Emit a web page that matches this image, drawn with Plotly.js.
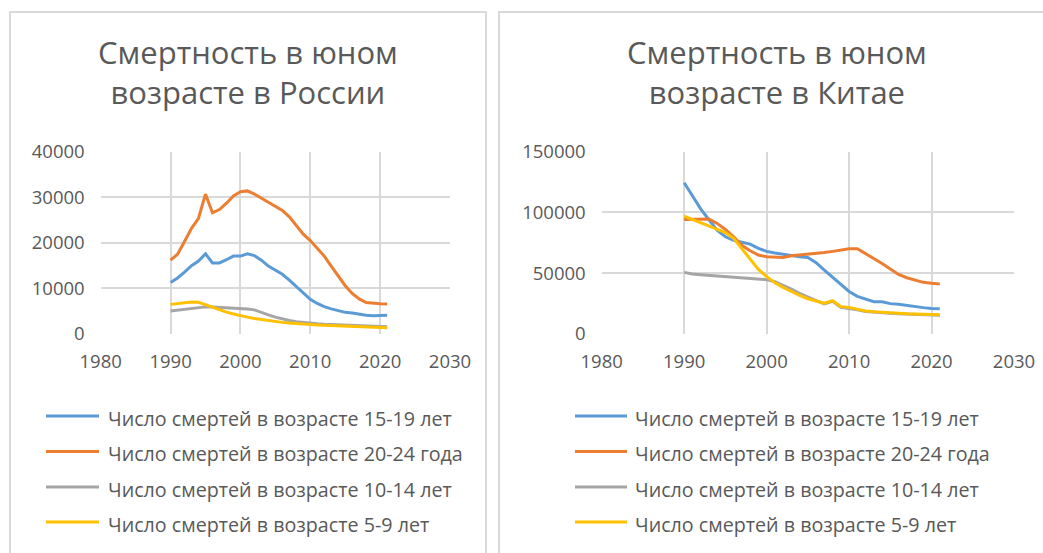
<!DOCTYPE html>
<html>
<head>
<meta charset="utf-8">
<script src="https://cdn.plot.ly/plotly-3.0.1.min.js"></script>
<style>html,body{margin:0;padding:0;background:#fff;}#chart{width:1043px;height:553px;}</style>
</head>
<body>
<div id="chart"></div>
<script>
// ---- data ----
var years = [1990,1991,1992,1993,1994,1995,1996,1997,1998,1999,2000,2001,2002,2003,2004,2005,2006,2007,2008,2009,2010,2011,2012,2013,2014,2015,2016,2017,2018,2019,2020,2021];

var seriesNames = ["Число смертей в возрасте 15-19 лет","Число смертей в возрасте 20-24 года","Число смертей в возрасте 10-14 лет","Число смертей в возрасте 5-9 лет"];

var ru15_19 = [11300,12300,13600,15000,16000,17600,15600,15600,16300,17100,17100,17600,17200,16200,14900,14000,13100,11800,10400,8900,7600,6700,6000,5500,5100,4750,4600,4300,4100,4000,4000,4100];
var ru20_24 = [16200,17500,20300,23200,25400,30700,26600,27300,28700,30300,31200,31400,30700,29800,28900,28100,27100,25700,23700,21900,20500,18900,17100,14900,12700,10600,8900,7700,6900,6700,6650,6600];
var ru10_14 = [5050,5200,5400,5600,5800,5950,5900,5850,5800,5700,5650,5500,5300,4700,4200,3700,3300,2950,2700,2500,2350,2250,2150,2100,2050,2000,1900,1850,1800,1700,1650,1600];
var ru5_9 = [6500,6700,6900,7000,6950,6400,5900,5300,4800,4400,4000,3700,3400,3150,2900,2700,2550,2400,2250,2150,2100,2000,1950,1900,1850,1800,1700,1650,1550,1500,1400,1350];

var cn15_19 = [124500,114000,103000,94000,85500,80000,77000,75500,74000,70500,68000,66600,65500,65000,63600,63000,58700,52600,47000,41000,35000,31000,28500,26600,26600,25000,24400,23300,22700,21700,21000,20800];
var cn20_24 = [94300,94300,94600,94600,91000,86000,80000,73000,68500,65000,63600,63000,63000,64400,65000,65500,66000,67000,68000,69000,70200,70200,66300,62200,58000,53500,49000,46300,44400,42500,41700,41100];
var cn10_14 = [50700,49400,48800,48300,47400,46900,46300,45800,45200,45000,44700,43000,40300,37000,33500,30200,27400,24800,26900,22000,21300,20000,18600,17900,17400,17000,16600,16300,16000,15800,15600,15400];
var cn5_9 = [97000,94300,91000,88300,86000,83400,78700,70500,61400,53200,47200,42200,38400,34800,31800,29000,26900,25300,27400,22500,21900,20500,19000,18300,17800,17400,17000,16700,16500,16300,16100,15900];

var titleRu = "Смертность в юном<br>возрасте в России";
var titleCn = "Смертность в юном<br>возрасте в Китае";
var xTicks = [1980,1990,2000,2010,2020,2030];
var yTicksRu = [0,10000,20000,30000,40000];
var yTicksCn = [0,50000,100000,150000];

// ---- styles ----
var colors = ["#5b9bd5","#ed7d31","#a5a5a5","#ffc000"];
var W = 1043, H = 553;
function px(x){return x/W;}
function py(y){return 1-y/H;}
var FONT = "Open Sans, Noto Sans, sans-serif";
var TXT = "#595959";
var GRID = "#d9d9d9";

var ruData = [ru15_19, ru20_24, ru10_14, ru5_9];
var cnData = [cn15_19, cn20_24, cn10_14, cn5_9];

var traces = [];
for (var i=0;i<4;i++){
  traces.push({x:years,y:ruData[i],type:"scatter",mode:"lines",name:seriesNames[i],
    line:{color:colors[i],width:3},xaxis:"x",yaxis:"y",showlegend:false,hoverinfo:"x+y"});
}
for (var i=0;i<4;i++){
  traces.push({x:years,y:cnData[i],type:"scatter",mode:"lines",name:seriesNames[i],
    line:{color:colors[i],width:3},xaxis:"x2",yaxis:"y2",showlegend:false,hoverinfo:"x+y"});
}

function xax(domain,anchor){
  return {domain:domain,anchor:anchor,range:[xTicks[0],xTicks[xTicks.length-1]],tickvals:xTicks,
    showgrid:true,gridcolor:GRID,gridwidth:2,zeroline:false,showline:false,
    ticks:"",ticklabelstandoff:14,tickfont:{family:FONT,size:18.5,color:TXT},fixedrange:true};
}
function yax(ticks,domain,anchor){
  return {domain:domain,range:[ticks[0],ticks[ticks.length-1]],tickvals:ticks,tickformat:"d",
    showgrid:true,gridcolor:GRID,gridwidth:2,zeroline:false,showline:false,anchor:anchor,
    ticks:"",ticklabelstandoff:15,tickfont:{family:FONT,size:18.5,color:TXT},fixedrange:true};
}
var yDom = [py(334), py(151.7)];

var shapes = [
  {type:"rect",xref:"paper",yref:"paper",x0:px(10),x1:px(486),y0:-0.2,y1:py(12),line:{color:GRID,width:2}},
  {type:"rect",xref:"paper",yref:"paper",x0:px(499),x1:1.2,y0:-0.2,y1:py(12),line:{color:GRID,width:2}}
];
var annotations = [];
[[titleRu,248],[titleCn,776.5]].forEach(function(t){
  annotations.push({xref:"paper",yref:"paper",x:px(t[1]),y:py(72),xanchor:"center",yanchor:"middle",
    text:t[0],showarrow:false,font:{family:FONT,size:31,color:TXT}});
});
var legY = [416,451.5,487,522];
var legPanels = [{l0:46,l1:99,t:105.5},{l0:575,l1:627,t:632.5}];
legPanels.forEach(function(p){
  for (var i=0;i<4;i++){
    shapes.push({type:"line",xref:"paper",yref:"paper",x0:px(p.l0),x1:px(p.l1),y0:py(legY[i]),y1:py(legY[i]),
      line:{color:colors[i],width:3}});
    annotations.push({xref:"paper",yref:"paper",x:px(p.t),y:py(legY[i]+2),xanchor:"left",yanchor:"middle",
      text:seriesNames[i],showarrow:false,font:{family:FONT,size:19.7,color:TXT}});
  }
});

var layout = {
  width:W,height:H,margin:{l:0,r:0,t:0,b:0},paper_bgcolor:"#fff",plot_bgcolor:"#fff",
  showlegend:false,
  xaxis:xax([px(100.7),px(450)],"y"),
  yaxis:yax(yTicksRu,yDom,"x"),
  xaxis2:xax([px(601.7),px(1014)],"y2"),
  yaxis2:yax(yTicksCn,yDom,"x2"),
  shapes:shapes,annotations:annotations
};
Plotly.newPlot("chart",traces,layout,{displayModeBar:false,staticPlot:true});
</script>
</body>
</html>
